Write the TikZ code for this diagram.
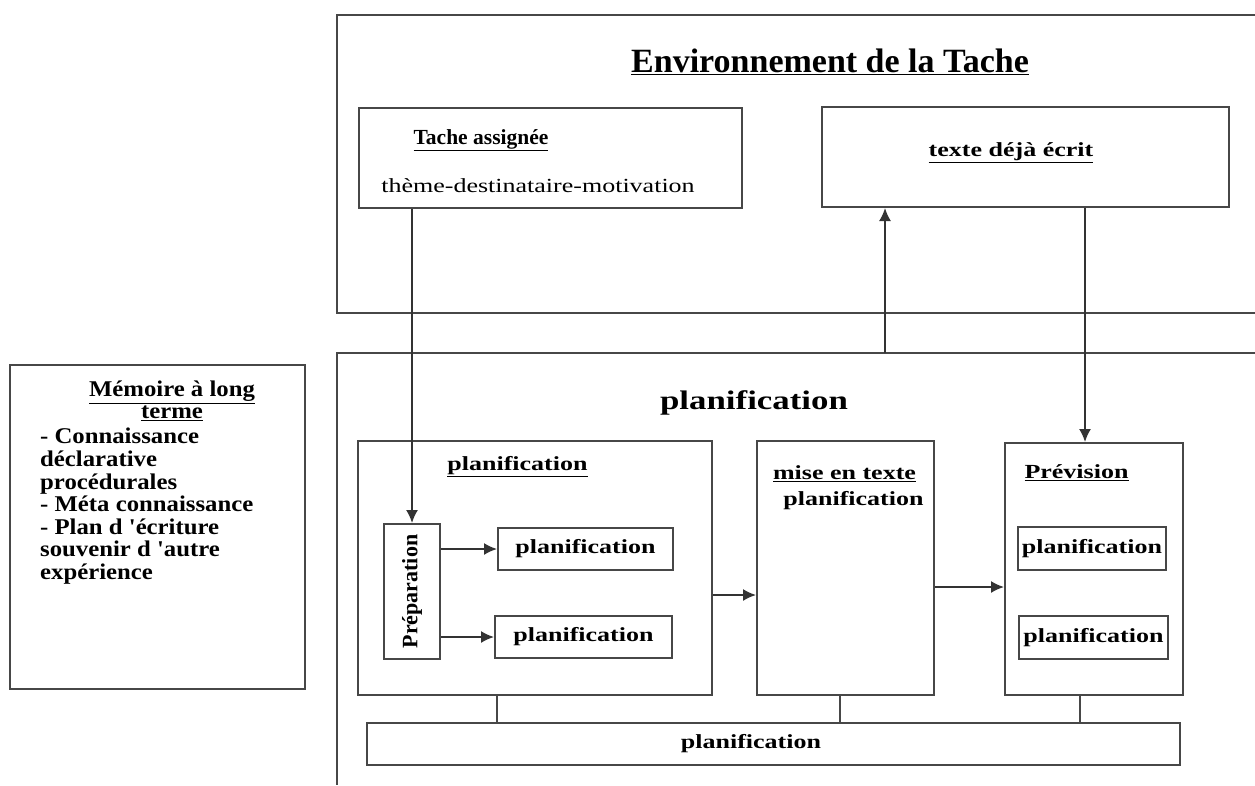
\documentclass[tikz,border=0pt]{standalone}
\usepackage{fontspec}
\usepackage{tikz}
\usetikzlibrary{arrows.meta}
\setmainfont{Liberation Serif}
\newfontfamily\widefont{Liberation Serif}[FakeStretch=1.3]
\newfontfamily\memfont{Liberation Serif}[FakeStretch=1.1]

\begin{document}
\begin{tikzpicture}[x=1pt, y=-1pt,
		box/.style = {draw=black!72, line width=2pt, inner sep=0pt},
		txt/.style = {inner sep=0pt, font=\widefont\bfseries\fontsize{20}{22}\selectfont},
		arr/.style = {draw=black!80, line width=1.7pt, -{Latex[length=13pt,width=12pt]}},
		con/.style = {draw=black!72, line width=2pt}]
	\useasboundingbox (0,0) rectangle (1255,785);
	% Environnement de la Tache
	\draw[con] (1255,15) -- (337,15) -- (337,313) -- (1255,313);
	\node[inner sep=0pt, font=\bfseries\fontsize{34}{36}\selectfont] (envt) at (830,62) {\underline{Environnement de la Tache}};
	\node[box, minimum width=383, minimum height=100] (tache) at (550.5,158) {};
	\node[inner sep=0pt, font=\bfseries\fontsize{21.5}{23}\selectfont] (tachet) at (481,140) {\underline{Tache assignée}};
	\node[txt, font=\widefont\fontsize{20}{22}\selectfont] (theme) at (538,186) {thème-destinataire-motivation};
	\node[box, minimum width=407, minimum height=100] (texte) at (1025.5,157) {};
	\node[txt] (textet) at (1011,153) {\underline{texte déjà écrit}};
	% planification
	\draw[con] (1255,353) -- (337,353) -- (337,785);
	\coordinate (plantop) at (885,353);
	\node[txt, font=\widefont\bfseries\fontsize{26.8}{28}\selectfont] (plant) at (754,403) {planification};
	% Memoire a long terme
	\node[box, minimum width=295, minimum height=324] (mem) at (157.5,527) {};
	\node[txt, align=center, font=\memfont\bfseries\fontsize{22.5}{21.5}\selectfont] (memt) at (172,401) {\underline{Mémoire à long}\\\underline{terme}};
	\node[txt, anchor=north west, align=left, font=\memfont\bfseries\fontsize{22.5}{22.6}\selectfont] (memx) at (40,428) {- Connaissance\\déclarative\\procédurales\\- Méta connaissance\\- Plan d 'écriture\\souvenir d 'autre\\expérience};
	% boxes
	\node[box, minimum width=354, minimum height=254] (planif) at (535,568) {};
	\node[txt] (planift) at (517.5,467) {\underline{planification}};
	\node[box, minimum width=56, minimum height=135] (prep) at (412,591.5) {};
	\node[inner sep=0pt, rotate=90, font=\bfseries\fontsize{22}{24}\selectfont] (prept) at (prep) {Préparation};
	\node[box, minimum width=175, minimum height=42] (sub1) at (585.5,549) {};
	\node[txt] at (sub1) {planification};
	\node[box, minimum width=177, minimum height=42] (sub2) at (583.5,637) {};
	\node[txt] at (sub2) {planification};
	\node[box, minimum width=177, minimum height=254] (mise) at (845.5,568) {};
	\node[txt] (miset) at (844.5,474) {\underline{mise en texte}};
	\node[txt] (misep) at (853.5,501) {planification};
	\node[box, minimum width=178, minimum height=252] (prev) at (1094,569) {};
	\node[txt] (prevt) at (1076.5,473) {\underline{Prévision}};
	\node[box, minimum width=148, minimum height=43] (psub1) at (1092,548.5) {};
	\node[txt] at (psub1) {planification};
	\node[box, minimum width=149, minimum height=43] (psub2) at (1093.5,637.5) {};
	\node[txt] at (psub2) {planification};
	\node[box, minimum width=813, minimum height=42] (bottom) at (773.5,744) {};
	\node[txt] at (751,744) {planification};
	% arrows
	\draw[arr] (prep.north |- tache.south) -- (prep.north);
	\draw[arr] (prep.east |- sub1) -- (sub1.west);
	\draw[arr] (prep.east |- sub2) -- (sub2.west);
	\draw[arr] ([yshift=-27pt]planif.east) -- ([yshift=-27pt]planif.east -| mise.west);
	\draw[arr] ([yshift=-19pt]mise.east) -- ([yshift=-19pt]mise.east -| prev.west);
	\draw[arr] (plantop) -- (plantop |- texte.south);
	\draw[arr] ([xshift=59.5pt]texte.south) -- ([xshift=59.5pt]texte.south |- prev.north);
	\draw[con] ([xshift=-38pt]planif.south) -- ([xshift=-38pt]planif.south |- bottom.north);
	\draw[con] ([xshift=-5.5pt]mise.south) -- ([xshift=-5.5pt]mise.south |- bottom.north);
	\draw[con] ([xshift=-14pt]prev.south) -- ([xshift=-14pt]prev.south |- bottom.north);
\end{tikzpicture}
\end{document}
